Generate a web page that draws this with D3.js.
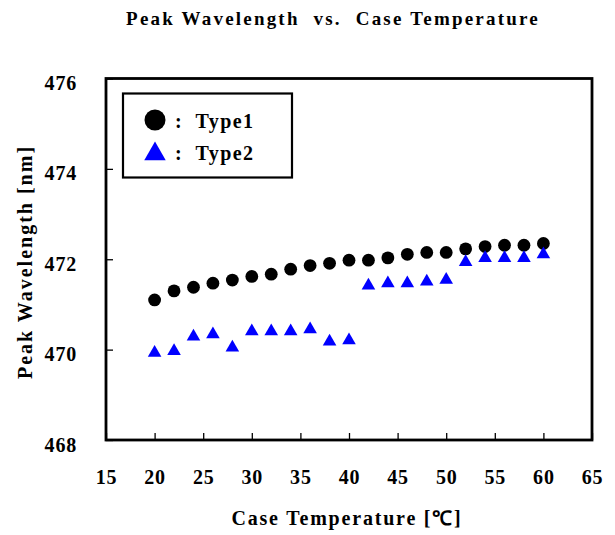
<!DOCTYPE html>
<html><head><meta charset="utf-8">
<script src="https://cdn.jsdelivr.net/npm/d3@7"></script>
<style>body{margin:0;background:#fff}svg{display:block}text{font-family:"Liberation Serif","Times New Roman",serif;font-weight:bold}</style>
</head><body><div id="chart"></div>
<script>
const temps = [20,22,24,26,28,30,32,34,36,38,40,42,44,46,48,50,52,54,56,58,60];
const type1 = [471.10,471.30,471.38,471.47,471.54,471.62,471.67,471.78,471.86,471.91,471.98,471.98,472.03,472.11,472.15,472.15,472.23,472.28,472.31,472.31,472.35];
const type2 = [469.96,470.00,470.32,470.37,470.08,470.44,470.44,470.44,470.48,470.21,470.24,471.45,471.50,471.50,471.54,471.58,471.97,472.06,472.06,472.06,472.14];
const xTicks = [15,20,25,30,35,40,45,50,55,60,65];
const yTicks = [468,470,472,474,476];
const seriesNames = ["Type1","Type2"];

const W=615,H=535;
const svg=d3.select("#chart").append("svg").attr("width",W).attr("height",H);
const x=d3.scaleLinear().domain([15,65]).range([106,592]);
const y=d3.scaleLinear().domain([468,476]).range([440,78.5]);

svg.append("text").attr("x",333).attr("y",25).attr("text-anchor","middle").attr("font-size",19)
  .attr("letter-spacing",2.2).attr("xml:space","preserve").text("Peak Wavelength  vs.  Case Temperature");

// axes
const xAxis=svg.append("g").attr("transform",`translate(0,${y(468)})`)
  .call(d3.axisBottom(x).tickValues(xTicks).tickSizeInner(-7).tickSizeOuter(0).tickPadding(30).tickFormat(d3.format("d")));
const yAxis=svg.append("g").attr("transform",`translate(${x(15)},0)`)
  .call(d3.axisLeft(y).tickValues(yTicks).tickSizeInner(-7).tickSizeOuter(0).tickPadding(29).tickFormat(d3.format("d")));
[xAxis,yAxis].forEach(g=>{
  g.select(".domain").remove();
  g.selectAll(".tick line").attr("stroke","#000").attr("stroke-width",1.3);
  g.selectAll(".tick text").attr("font-size",20).attr("fill","#000").attr("letter-spacing",0.8)
    .attr("font-family","Liberation Serif").attr("font-weight","bold");
});
yAxis.selectAll(".tick text").attr("dy","0.55em");
// frame
svg.append("rect").attr("x",x(15)).attr("y",y(476)).attr("width",x(65)-x(15)).attr("height",y(468)-y(476))
  .attr("fill","none").attr("stroke","#000").attr("stroke-width",2.8);

// axis titles
svg.append("text").attr("x",347).attr("y",525).attr("text-anchor","middle").attr("font-size",20)
  .attr("letter-spacing",1.8).text("Case Temperature [℃]");
svg.append("text").attr("transform","translate(32,262) rotate(-90)").attr("text-anchor","middle").attr("font-size",20)
  .attr("letter-spacing",2).text("Peak Wavelength [nm]");

// data
const tri=d3.symbol().type(d3.symbolTriangle).size(80);
svg.append("g").selectAll("circle").data(temps).join("circle")
  .attr("cx",d=>x(d)).attr("cy",(d,i)=>y(type1[i])).attr("r",6.4).attr("fill","#000");
svg.append("g").selectAll("path").data(temps).join("path")
  .attr("d",tri).attr("fill","#0000ff")
  .attr("transform",(d,i)=>`translate(${x(d)},${y(type2[i])+1.5})`);

// legend
const lg=svg.append("g");
lg.append("rect").attr("x",123).attr("y",93.5).attr("width",169).attr("height",84).attr("fill","#fff").attr("stroke","#000").attr("stroke-width",2.2);
lg.append("circle").attr("cx",155).attr("cy",120).attr("r",10.5).attr("fill","#000");
lg.append("path").attr("d",d3.symbol().type(d3.symbolTriangle).size(200)).attr("fill","#0000ff").attr("transform","translate(155,154)");
lg.append("text").attr("x",175).attr("y",128).attr("font-size",20).attr("letter-spacing",1.4).attr("xml:space","preserve").text(":  "+seriesNames[0]);
lg.append("text").attr("x",175).attr("y",160).attr("font-size",20).attr("letter-spacing",1.4).attr("xml:space","preserve").text(":  "+seriesNames[1]);
</script></body></html>
